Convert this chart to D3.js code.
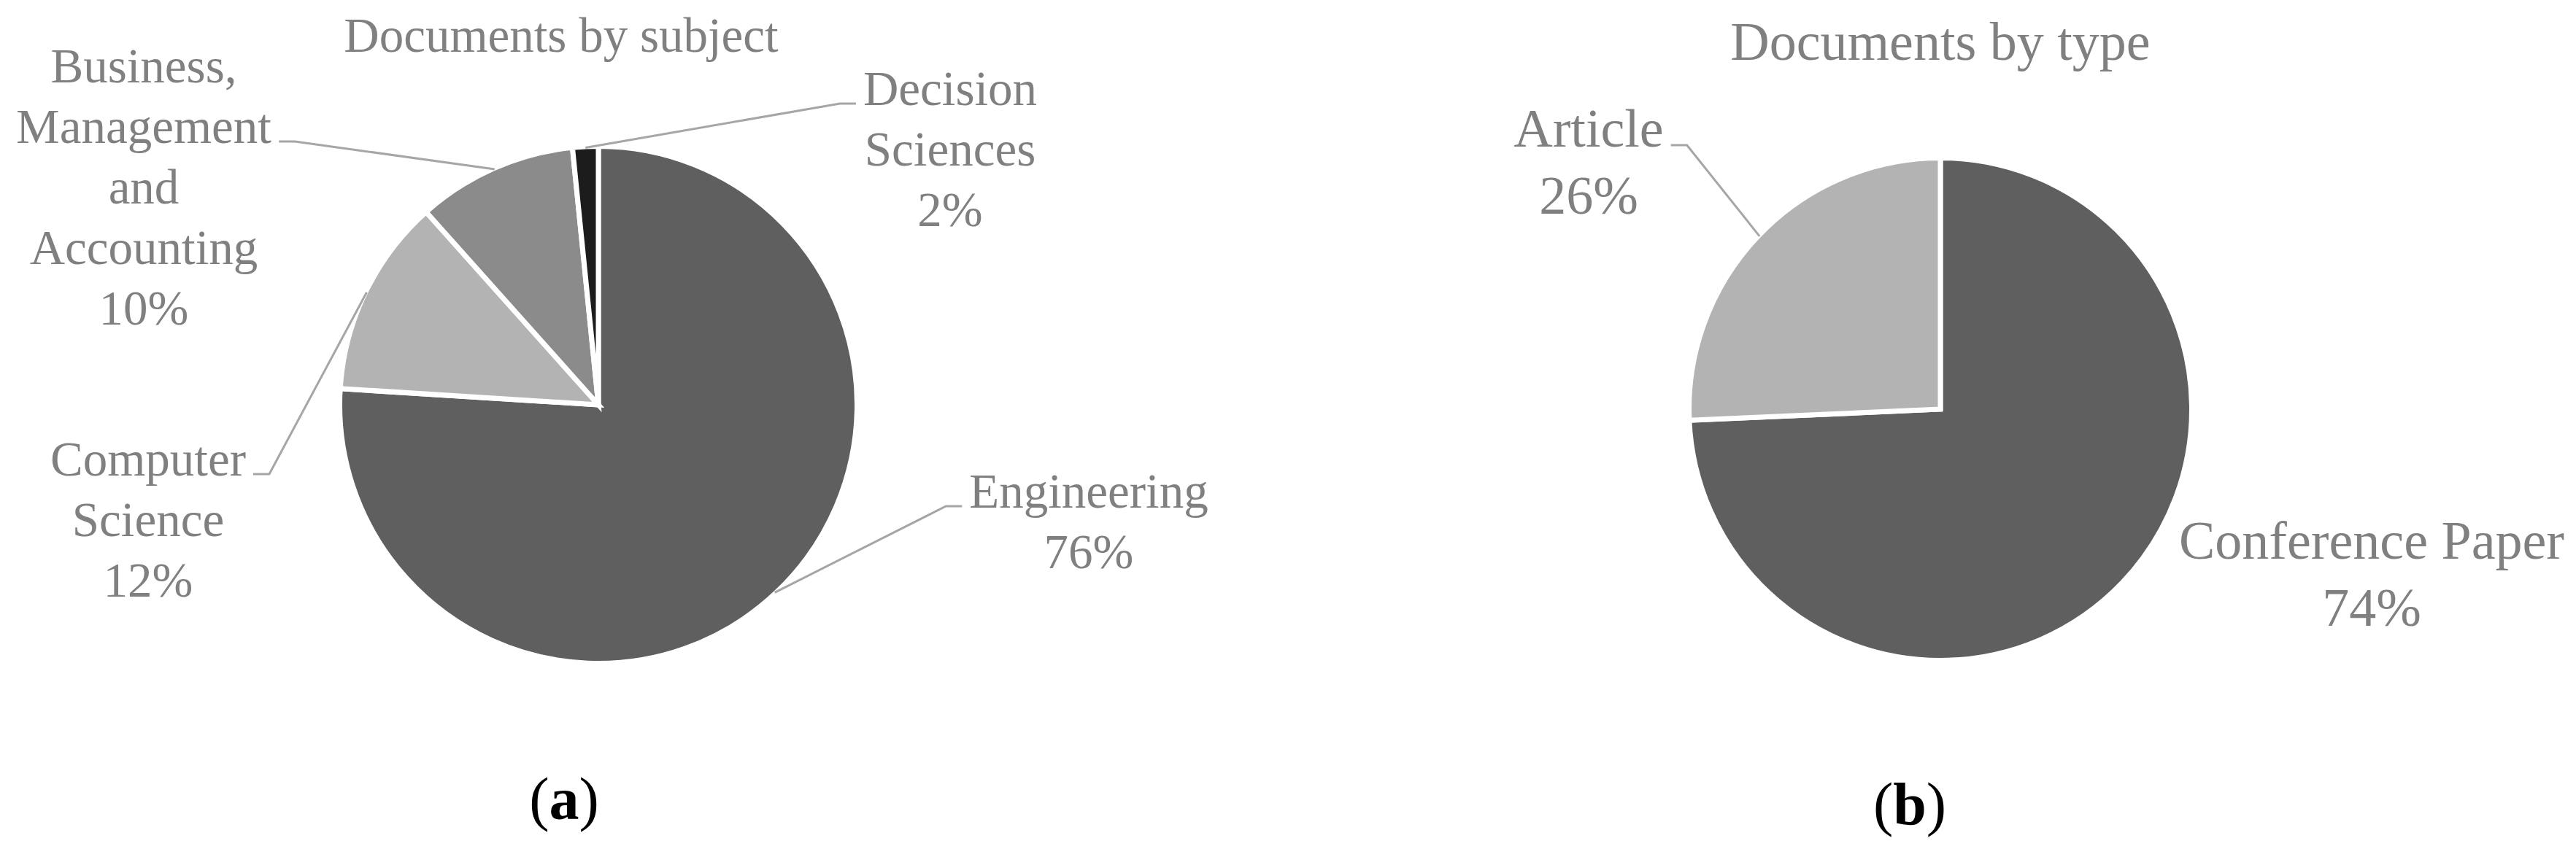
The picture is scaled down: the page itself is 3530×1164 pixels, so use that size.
<!DOCTYPE html>
<html>
<head>
<meta charset="utf-8">
<script src="https://cdn.jsdelivr.net/npm/d3@7"></script>
<style>
  body { margin: 0; background: #fff; }
  text { font-family: "Liberation Serif", "Times New Roman", serif; }
</style>
</head>
<body>
<div id="chart"></div>
<script>
// values (share of documents, %)
const subjectCategories = ["Engineering", "Computer Science", "Business, Management and Accounting", "Decision Sciences"];
const subjectValues = [76.0, 12.4, 10.0, 1.6];
const subjectColors = ["#5f5f5f", "#b3b3b3", "#8b8b8b", "#1c1c1c"];

const typeCategories = ["Conference Paper", "Article"];
const typeValues = [74.3, 25.7];
const typeColors = ["#5f5f5f", "#b3b3b3"];

const width = 3530, height = 1164;
const textColor = "#808080", leaderColor = "#a6a6a6";

const svg = d3.select("#chart")
  .append("svg")
  .attr("width", width)
  .attr("height", height);

svg.append("rect").attr("width", width).attr("height", height).attr("fill", "#fff");

// layout of the two panels (label offsets are relative to the pie centre)
const panels = [
  {
    title: "Documents by subject", tag: "a",
    categories: subjectCategories, values: subjectValues, colors: subjectColors,
    cx: 820, cy: 555, r: 351, font: 67, lineH: 83, titleX: 769, titleY: 71,
    tagX: 773, tagY: 1123,
    labels: [
      { dx: 672, dy: 141, wrap: true, leader: "left", line: 0 },
      { dx: -617, dy: 97, wrap: true, leader: "right", line: 0 },
      { dx: -623, dy: -442, wrap: true, leader: "right", line: 1 },
      { dx: 482, dy: -411, wrap: true, leader: "left", line: 0 }
    ]
  },
  {
    title: "Documents by type", tag: "b",
    categories: typeCategories, values: typeValues, colors: typeColors,
    cx: 2659, cy: 561, r: 341, font: 74, lineH: 92, titleX: 2659, titleY: 82,
    tagX: 2617, tagY: 1130,
    labels: [
      { dx: 591, dy: 205, wrap: false, leader: null },
      { dx: -482, dy: -360, wrap: true, leader: "right", line: 0 }
    ]
  }
];

panels.forEach(function (p) {
  const g = svg.append("g").attr("transform", `translate(${p.cx},${p.cy})`);

  const pie = d3.pie().sort(null).value(function (d) { return d; });
  const arcs = pie(p.values);

  // white stroke also eats into the rim, so grow the radius by half of it
  const arc = d3.arc().innerRadius(0).outerRadius(p.r + 3.5);
  const rimArc = d3.arc().innerRadius(p.r + 2).outerRadius(p.r + 2);

  g.selectAll("path.slice")
    .data(arcs)
    .join("path")
    .attr("class", "slice")
    .attr("d", arc)
    .attr("fill", function (d, i) { return p.colors[i]; })
    .attr("stroke", "#fff")
    .attr("stroke-width", 7)
    .attr("stroke-linejoin", "miter");

  // title
  svg.append("text")
    .attr("x", p.titleX)
    .attr("y", p.titleY)
    .attr("text-anchor", "middle")
    .attr("font-size", p.font + "px")
    .attr("fill", textColor)
    .text(p.title);

  // data labels + leader lines
  arcs.forEach(function (d, i) {
    const L = p.labels[i];
    const name = p.categories[i];
    const lines = (L.wrap ? name.split(" ") : [name]).concat([Math.round(p.values[i]) + "%"]);
    const lx = p.cx + L.dx, ly = p.cy + L.dy;

    const nodes = lines.map(function (s, k) {
      return svg.append("text")
        .attr("x", lx)
        .attr("y", ly + k * p.lineH)
        .attr("text-anchor", "middle")
        .attr("font-size", p.font + "px")
        .attr("fill", textColor)
        .text(s);
    });

    if (!L.leader) return;
    const bb = nodes[L.line].node().getBBox();
    const yStub = ly + L.line * p.lineH - 2;
    const sgn = L.leader === "right" ? 1 : -1;
    const x0 = L.leader === "right" ? bb.x + bb.width + 10 : bb.x - 10;
    const x1 = x0 + sgn * 22;
    const c = rimArc.centroid(d);

    svg.append("path")
      .attr("d", d3.line()([[x0, yStub], [x1, yStub], [p.cx + c[0], p.cy + c[1]]]))
      .attr("fill", "none")
      .attr("stroke", leaderColor)
      .attr("stroke-width", 3);
  });

  // panel tag (a) / (b)
  const tag = svg.append("text")
    .attr("x", p.tagX)
    .attr("y", p.tagY)
    .attr("text-anchor", "middle")
    .attr("font-size", "82px")
    .attr("fill", "#000");
  tag.append("tspan").text("(");
  tag.append("tspan").attr("font-weight", "bold").text(p.tag);
  tag.append("tspan").text(")");
});
</script>
</body>
</html>
